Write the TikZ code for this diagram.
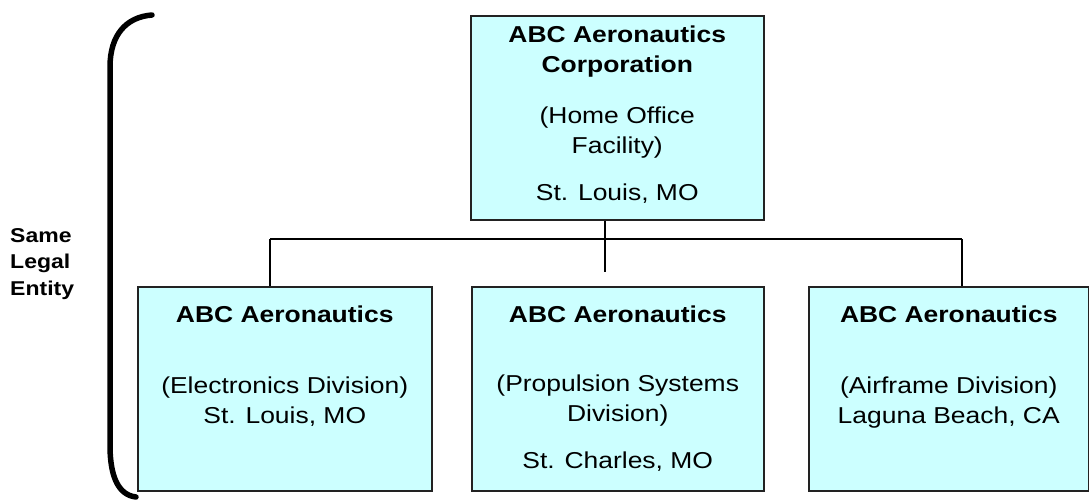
\documentclass[tikz,border=0pt]{standalone}
\usepackage{fontspec}
\setmainfont{Liberation Sans}[FakeStretch=1.15]
\usetikzlibrary{positioning}
\definecolor{boxcyan}{HTML}{CCFFFF}
\definecolor{boxedge}{HTML}{222222}

\tikzset{
  orgbox/.style={draw=boxedge, line width=1.5pt, fill=boxcyan, inner sep=0pt, anchor=north west},
  wire/.style={black, line width=1.5pt},
  brace/.style={black, line width=5.5pt, line cap=round}
}
\newcommand{\orgtext}[2]{\parbox[t][204pt][t]{#1}{\centering\fontsize{23}{30}\selectfont #2}}

\begin{document}
\begin{tikzpicture}[x=1pt, y=-1pt]
  \useasboundingbox (0,0) rectangle (1089,501);
  % entity bracket
  \draw[brace] (152,15) .. controls (126,17) and (110,35) .. (110,67)
    -- (110,445) .. controls (110,478) and (119,495) .. (136,497);
  \node[anchor=north west, align=left, inner sep=0pt, font=\fontsize{20}{26.5}\selectfont\bfseries] (legal) at (10,228) {Same\\Legal\\Entity};
  % boxes
  \node[orgbox] (home) at (470,15) {\orgtext{293pt}{\rule{0pt}{27pt}\textbf{ABC Aeronautics}\\
    \textbf{Corporation}\\[21pt] (Home Office\\ Facility)\\[17pt] St. Louis, MO}};
  \node[orgbox] (elec) at (137,286) {\orgtext{294pt}{\rule{0pt}{36pt}\textbf{ABC Aeronautics}\\[41pt]
    (Electronics Division)\\ St. Louis, MO}};
  \node[orgbox] (prop) at (471,286) {\orgtext{292pt}{\rule{0pt}{36pt}\textbf{ABC Aeronautics}\\[39pt]
    (Propulsion Systems\\ Division)\\[17pt] St. Charles, MO}};
  \node[orgbox] (air) at (808,286) {\orgtext{280pt}{\rule{0pt}{36pt}\textbf{ABC Aeronautics}\\[41pt]
    (Airframe Division)\\ Laguna Beach, CA}};
  % connectors
  \coordinate (bus1) at (270,239);
  \coordinate (bus2) at (605,239);
  \coordinate (bus3) at (962,239);
  \coordinate (stub) at (605,272);
  \draw[wire] (bus1) -- (bus3);
  \draw[wire] (bus2 |- home.south) -- (stub);
  \draw[wire] (bus1) -- (bus1 |- elec.north);
  \draw[wire] (bus3) -- (bus3 |- air.north);
\end{tikzpicture}
\end{document}
